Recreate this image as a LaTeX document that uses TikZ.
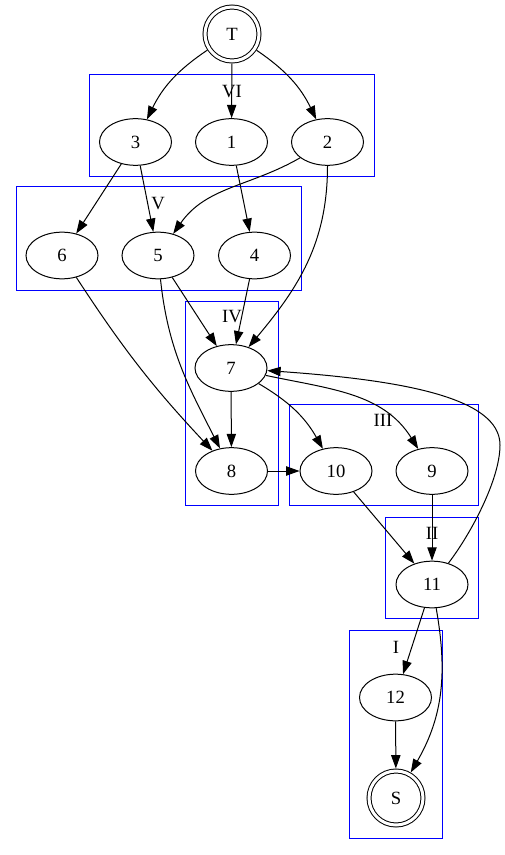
\documentclass[tikz,border=0pt]{standalone}
\usepackage{fontspec}
\setmainfont{Liberation Serif}
\usetikzlibrary{shapes.geometric,arrows.meta}
\definecolor{clusterblue}{RGB}{0,0,255}
\tikzset{
  state/.style={
    ellipse,
    draw=black,
    line width=0.75pt,
    minimum width=54pt,
    minimum height=35pt,
    inner sep=0pt
  },
  terminal/.style={
    circle,
    draw=black,
    line width=0.75pt,
    double,
    double distance=2.25pt,
    minimum size=40.5pt,
    inner sep=0pt,
    outer sep=1.9pt
  },
  cluster/.style={draw=clusterblue, line width=0.75pt},
  cluster-label/.style={inner sep=0pt},
  edge/.style={line width=0.75pt, -{Triangle[length=10pt,width=7pt]}}
}

\begin{document}
\begin{tikzpicture}[x=0.75pt, y=0.75pt, every node/.style={font=\fontsize{14pt}{16pt}\selectfont}]
  \useasboundingbox (0,0) rectangle (505,-855);
  % clusters
  \draw[cluster] (89,-75) rectangle (374,-177);
  \draw[cluster] (16,-187) rectangle (301,-290);
  \draw[cluster] (185,-301) rectangle (278,-505);
  \draw[cluster] (289,-404) rectangle (478,-505);
  \draw[cluster] (385,-517) rectangle (478,-618);
  \draw[cluster] (349,-630) rectangle (442,-838);
  \node[cluster-label] (lVI) at (232,-92) {VI};
  \node[cluster-label] (lV) at (158,-204) {V};
  \node[cluster-label] (lIV) at (232,-317) {IV};
  \node[cluster-label] (lIII) at (383,-420) {III};
  \node[cluster-label] (lII) at (432,-533) {II};
  \node[cluster-label] (lI) at (396,-647) {I};
  % states
  \node[terminal] (T) at (232,-34) {T};
  \node[state] (n3) at (135.5,-142) {3};
  \node[state] (n1) at (231.5,-142) {1};
  \node[state] (n2) at (327.5,-142) {2};
  \node[state] (n6) at (62,-255.5) {6};
  \node[state] (n5) at (158,-255.5) {5};
  \node[state] (n4) at (254.5,-255.5) {4};
  \node[state] (n7) at (231,-368) {7};
  \node[state] (n8) at (231.5,-471) {8};
  \node[state] (n10) at (336,-471) {10};
  \node[state] (n9) at (432,-471) {9};
  \node[state] (n11) at (432,-584.5) {11};
  \node[state] (n12) at (395.5,-697.5) {12};
  \node[terminal] (S) at (396,-798) {S};
  \coordinate (k) at (500,-445);
  % edges
  \draw[edge] (T) to[bend right=15] (n3);
  \draw[edge] (T) -- (n1);
  \draw[edge] (T) to[bend left=15] (n2);
  \draw[edge] (n3) -- (n6);
  \draw[edge] (n3) -- (n5);
  \draw[edge] (n1) -- (n4);
  \draw[edge] (n2) to[out=-150, in=55] (n5);
  \draw[edge] (n2) to[out=-90, in=50] (n7);
  \draw[edge] (n5) -- (n7);
  \draw[edge] (n4) -- (n7);
  \draw[edge] (n6) to[bend right=5] (n8);
  \draw[edge] (n5) to[out=-84, in=117] (n8);
  \draw[edge] (n7) -- (n8);
  \draw[edge] (n7) to[bend left=15] (n10);
  \draw[edge] (n7) to[out=-12, in=122] (n9);
  \draw[edge] (n8) -- (n10);
  \draw[edge] (n10) -- (n11);
  \draw[edge] (n9) -- (n11);
  \draw[edge] (n11) .. controls (470,-535) and (500,-480) .. (k)
    .. controls (500,-397) and (400,-380) .. (n7);
  \draw[edge] (n11) -- (n12);
  \draw[edge] (n11) to[out=-80, in=60] (S);
  \draw[edge] (n12) -- (S);
\end{tikzpicture}
\end{document}
